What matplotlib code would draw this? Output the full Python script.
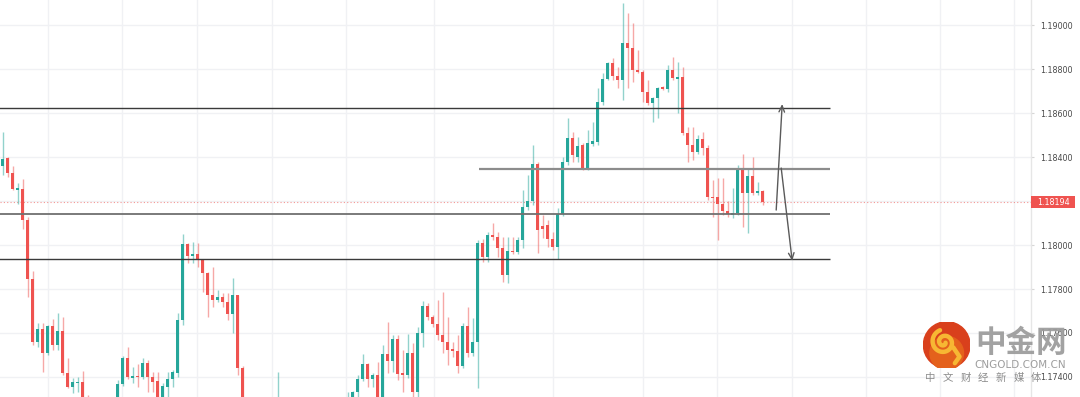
import numpy as np
import matplotlib.pyplot as plt
from matplotlib.patches import Circle, Rectangle
from matplotlib.transforms import blended_transform_factory

# candle data, one entry per bar (EUR/USD style quotes)
opens = [1.18359, 1.18396, 1.18328, 1.18250, 1.18255, 1.18114, 1.17846, 1.17559, 1.17619, 1.17509,
         1.17632, 1.17546, 1.17609, 1.17419, 1.17355, 1.17373, 1.17378, 1.17305, 1.17250, 1.17205,
         1.17240, 1.17180, 1.17220, 1.17265, 1.17369, 1.17487, 1.17396, 1.17405, 1.17400, 1.17464,
         1.17400, 1.17382, 1.17296, 1.17355, 1.17391, 1.17419, 1.17659, 1.18005, 1.17950, 1.17959,
         1.17937, 1.17873, 1.17773, 1.17750, 1.17764, 1.17741, 1.17687, 1.17773, 1.17441, 1.17290,
         1.17210, 1.17240, 1.17170, 1.17110, 1.17160, 1.17220, 1.17290, 1.17200, 1.17150, 1.17210,
         1.17130, 1.17080, 1.17130, 1.17180, 1.17120, 1.17170, 1.17220, 1.17190, 1.17240, 1.17273,
         1.17309, 1.17332, 1.17391, 1.17459, 1.17391, 1.17409, 1.17309, 1.17505, 1.17473, 1.17573,
         1.17419, 1.17409, 1.17509, 1.17332, 1.17600, 1.17723, 1.17673, 1.17641, 1.17591, 1.17559,
         1.17528, 1.17519, 1.17450, 1.17632, 1.17509, 1.17559, 1.18009, 1.17946, 1.18046, 1.18037,
         1.17987, 1.17864, 1.17973, 1.17969, 1.18023, 1.18173, 1.18200, 1.18369, 1.18087, 1.18091,
         1.18028, 1.17991, 1.18141, 1.18378, 1.18487, 1.18400, 1.18455, 1.18350, 1.18459, 1.18469,
         1.18650, 1.18755, 1.18828, 1.18769, 1.18750, 1.18919, 1.18896, 1.18796, 1.18787, 1.18696,
         1.18646, 1.18669, 1.18719, 1.18709, 1.18796, 1.18755, 1.18764, 1.18509, 1.18455, 1.18423,
         1.18482, 1.18441, 1.18219, 1.18219, 1.18187, 1.18155, 1.18137, 1.18146, 1.18341, 1.18237,
         1.18314, 1.18237, 1.18246]
highs = [1.18514, 1.18400, 1.18359, 1.18282, 1.18300, 1.18128, 1.17882, 1.17646, 1.17646, 1.17637,
         1.17664, 1.17691, 1.17673, 1.17487, 1.17396, 1.17400, 1.17428, 1.17319, 1.17270, 1.17260,
         1.17255, 1.17235, 1.17280, 1.17387, 1.17496, 1.17537, 1.17446, 1.17459, 1.17487, 1.17478,
         1.17423, 1.17423, 1.17373, 1.17423, 1.17432, 1.17691, 1.18050, 1.18009, 1.18014, 1.18009,
         1.17937, 1.17878, 1.17900, 1.17796, 1.17782, 1.17782, 1.17850, 1.17773, 1.17450, 1.17295,
         1.17260, 1.17270, 1.17200, 1.17190, 1.17240, 1.17423, 1.17300, 1.17230, 1.17230, 1.17240,
         1.17160, 1.17150, 1.17200, 1.17210, 1.17190, 1.17240, 1.17250, 1.17260, 1.17290, 1.17332,
         1.17336, 1.17409, 1.17505, 1.17464, 1.17419, 1.17469, 1.17546, 1.17650, 1.17591, 1.17591,
         1.17523, 1.17596, 1.17555, 1.17628, 1.17746, 1.17737, 1.17682, 1.17750, 1.17787, 1.17673,
         1.17559, 1.17591, 1.17646, 1.17719, 1.17669, 1.18023, 1.18028, 1.18059, 1.18100, 1.18059,
         1.18037, 1.18037, 1.18037, 1.18037, 1.18250, 1.18319, 1.18455, 1.18378, 1.18137, 1.18114,
         1.18059, 1.18169, 1.18400, 1.18578, 1.18514, 1.18491, 1.18464, 1.18523, 1.18559, 1.18714,
         1.18782, 1.18832, 1.18850, 1.18809, 1.19100, 1.19055, 1.19009, 1.18887, 1.18796, 1.18750,
         1.18673, 1.18719, 1.18723, 1.18819, 1.18855, 1.18832, 1.18809, 1.18537, 1.18537, 1.18500,
         1.18514, 1.18455, 1.18296, 1.18305, 1.18305, 1.18200, 1.18259, 1.18364, 1.18414, 1.18350,
         1.18400, 1.18287, 1.18250]
lows = [1.18319, 1.18309, 1.18250, 1.18187, 1.18073, 1.17764, 1.17546, 1.17537, 1.17423, 1.17500,
        1.17523, 1.17523, 1.17409, 1.17350, 1.17328, 1.17332, 1.17273, 1.17228, 1.17190, 1.17180,
        1.17160, 1.17150, 1.17200, 1.17240, 1.17359, 1.17391, 1.17373, 1.17355, 1.17391, 1.17332,
        1.17332, 1.17273, 1.17273, 1.17309, 1.17355, 1.17400, 1.17637, 1.17919, 1.17919, 1.17900,
        1.17787, 1.17673, 1.17719, 1.17741, 1.17719, 1.17659, 1.17600, 1.17409, 1.17273, 1.17190,
        1.17170, 1.17150, 1.17080, 1.17090, 1.17140, 1.17200, 1.17180, 1.17120, 1.17130, 1.17100,
        1.17050, 1.17060, 1.17110, 1.17100, 1.17090, 1.17150, 1.17160, 1.17170, 1.17220, 1.17250,
        1.17273, 1.17305, 1.17382, 1.17355, 1.17355, 1.17296, 1.17296, 1.17419, 1.17423, 1.17387,
        1.17332, 1.17396, 1.17309, 1.17309, 1.17537, 1.17659, 1.17628, 1.17569, 1.17509, 1.17455,
        1.17491, 1.17419, 1.17441, 1.17491, 1.17496, 1.17350, 1.17923, 1.17923, 1.18023, 1.17946,
        1.17832, 1.17828, 1.17959, 1.17959, 1.17987, 1.18159, 1.18182, 1.17964, 1.18032, 1.17991,
        1.17978, 1.17937, 1.18132, 1.18364, 1.18378, 1.18378, 1.18341, 1.18341, 1.18450, 1.18455,
        1.18637, 1.18750, 1.18750, 1.18714, 1.18659, 1.18714, 1.18741, 1.18782, 1.18650, 1.18637,
        1.18559, 1.18578, 1.18705, 1.18696, 1.18750, 1.18600, 1.18500, 1.18378, 1.18387, 1.18414,
        1.18409, 1.18205, 1.18128, 1.18023, 1.18137, 1.18128, 1.18123, 1.18137, 1.18082, 1.18055,
        1.18228, 1.18228, 1.18182]
closes = [1.18391, 1.18328, 1.18255, 1.18259, 1.18114, 1.17846, 1.17559, 1.17619, 1.17509, 1.17632,
          1.17546, 1.17609, 1.17419, 1.17355, 1.17378, 1.17378, 1.17305, 1.17250, 1.17205, 1.17240,
          1.17180, 1.17220, 1.17265, 1.17369, 1.17487, 1.17400, 1.17405, 1.17400, 1.17464, 1.17400,
          1.17378, 1.17296, 1.17359, 1.17391, 1.17423, 1.17659, 1.18005, 1.17950, 1.17959, 1.17937,
          1.17873, 1.17773, 1.17750, 1.17764, 1.17741, 1.17687, 1.17773, 1.17441, 1.17305, 1.17210,
          1.17240, 1.17170, 1.17110, 1.17160, 1.17220, 1.17290, 1.17200, 1.17150, 1.17210, 1.17130,
          1.17080, 1.17130, 1.17180, 1.17120, 1.17170, 1.17220, 1.17190, 1.17240, 1.17270, 1.17305,
          1.17330, 1.17391, 1.17459, 1.17391, 1.17409, 1.17309, 1.17505, 1.17473, 1.17573, 1.17414,
          1.17409, 1.17509, 1.17332, 1.17600, 1.17723, 1.17673, 1.17641, 1.17591, 1.17559, 1.17523,
          1.17519, 1.17450, 1.17632, 1.17509, 1.17559, 1.18009, 1.17946, 1.18046, 1.18037, 1.17987,
          1.17864, 1.17973, 1.17969, 1.18023, 1.18173, 1.18200, 1.18369, 1.18069, 1.18073, 1.18028,
          1.17991, 1.18141, 1.18378, 1.18487, 1.18409, 1.18450, 1.18346, 1.18464, 1.18473, 1.18650,
          1.18755, 1.18828, 1.18769, 1.18750, 1.18919, 1.18896, 1.18796, 1.18787, 1.18696, 1.18646,
          1.18669, 1.18714, 1.18709, 1.18796, 1.18759, 1.18764, 1.18509, 1.18455, 1.18423, 1.18482,
          1.18441, 1.18219, 1.18214, 1.18187, 1.18155, 1.18141, 1.18146, 1.18341, 1.18237, 1.18314,
          1.18237, 1.18246, 1.18194]

# drawn levels and axis
level_top = 1.18625
level_mid = 1.18344
level_low1 = 1.18140
level_low2 = 1.17935
last_price = 1.18194
tick_prices = [1.174, 1.176, 1.178, 1.180, 1.182, 1.184, 1.186, 1.188, 1.190]
vgrid = [9.1, 23.9, 38.9, 53.8, 68.7, 86.3, 110.1, 128.1, 142.9, 157.9, 172.7, 187.5, 202.3]

W, H = 1080, 397
UP, DOWN = '#26a69a', '#ef5350'

fig = plt.figure(figsize=(W / 100, H / 100), dpi=100)
fig.patch.set_facecolor('white')
ax = fig.add_axes([0, 0, 1031 / W, 1])

o = np.array(opens)
h = np.array(highs)
l = np.array(lows)
c = np.array(closes)
idx = np.arange(len(o))
col = np.where(c >= o, UP, DOWN)

ax.set_axisbelow(True)
for v in vgrid:
    ax.axvline(v, color='#f0f1f4', lw=1, zorder=0)
ax.grid(axis='y', color='#f0f1f4', lw=1)

ax.vlines(idx, l, h, colors=col, linewidth=1, alpha=0.5, zorder=3)
body = np.maximum(np.abs(c - o), 0.00003)
ax.bar(idx, body, bottom=np.minimum(o, c), width=0.7, color=col, linewidth=0, zorder=4)

# hand drawn levels
x_end = 165.5
ax.hlines([level_top, level_low2], -1, x_end, colors='#3a3a3a', lw=1, zorder=5)
ax.hlines(level_low1, -1, x_end, colors='#707070', lw=1.3, zorder=5)
ax.hlines(level_mid, 95.3, x_end, colors='#8c8c8c', lw=1.6, zorder=5)

# arrows
ax.annotate('', xy=(155.9, 1.18641), xytext=(154.7, 1.18159),
            arrowprops=dict(arrowstyle='->,head_length=0.45,head_width=0.2', color='#5a5a5a',
                            lw=1, shrinkA=0, shrinkB=0), zorder=6)
ax.annotate('', xy=(157.9, 1.17928), xytext=(155.7, 1.18350),
            arrowprops=dict(arrowstyle='->,head_length=0.45,head_width=0.2', color='#5a5a5a',
                            lw=1, shrinkA=0, shrinkB=0), zorder=6)

# last price line
ax.axhline(last_price, color=DOWN, lw=0.8, ls=(0, (1, 2)), alpha=0.6, zorder=2)

ax.set_xlim(-0.54, 205.66)
ax.set_ylim(1.17309, 1.19114)
ax.set_xticks([])
ax.set_yticks(tick_prices)
ax.set_yticklabels(['' if abs(p - last_price) < 0.0003 else '%.5f' % p for p in tick_prices])
ax.yaxis.tick_right()
ax.tick_params(axis='y', length=2.5, width=0.8, color='#d6d6d6', pad=4,
               labelsize=5.8, labelcolor='#4a4a4a')
for s in ['top', 'left', 'bottom']:
    ax.spines[s].set_visible(False)
ax.spines['right'].set_color('#e6e6e6')
ax.spines['right'].set_linewidth(1)

# price label box
tr = blended_transform_factory(fig.transFigure, ax.transData)
box_h = 12 * (1.19114 - 1.17309) / H
ax.add_patch(Rectangle((1031 / W, last_price - box_h / 2), 44 / W, box_h, transform=tr,
                       facecolor=DOWN, edgecolor='none', clip_on=False, zorder=10))
ax.text(1053 / W, last_price, '%.5f' % last_price, transform=tr, ha='center', va='center',
        fontsize=5.8, color='white', clip_on=False, zorder=11)

# watermark logo
lax = fig.add_axes([(946.7 - 23.3) / W, 1 - (345 + 23.3) / H, 46.6 / W, 46.6 / H])
lax.set_xlim(-1, 1)
lax.set_ylim(-1, 1)
lax.axis('off')
lax.add_patch(Circle((0, 0), 1, color='#d9401c'))
lax.add_patch(Circle((0, -0.35), 0.72, color='#e4611c'))
t = np.linspace(0.3, 3.4 * np.pi, 200)
r = 0.06 + 0.045 * t
lax.plot(-0.12 + r * np.cos(-t), 0.12 + r * np.sin(-t), color='#f7b733', lw=3.2,
         solid_capstyle='round')
lax.plot([0.28, 0.55, 0.35], [-0.1, -0.5, -0.78], color='#f7b733', lw=3.2, solid_capstyle='round')

fig.text(1021 / W, 1 - 343 / H, '中金网', fontsize=22, fontweight='bold', color='#9d9d9d',
         ha='center', va='center', family=['Noto Sans CJK SC'], alpha=0.95)
fig.text(1020 / W, 1 - 365.5 / H, 'CNGOLD.COM.CN', fontsize=7.5, color='#9d9d9d',
         ha='center', va='center')
for k, ch in enumerate('中文财经新媒体'):
    fig.text((930 + 17.7 * k) / W, 1 - 378 / H, ch, fontsize=7.5, color='#8c8c8c',
             ha='center', va='center', family=['Noto Sans CJK SC'])

fig.savefig('out.png', dpi=100, facecolor='white')
